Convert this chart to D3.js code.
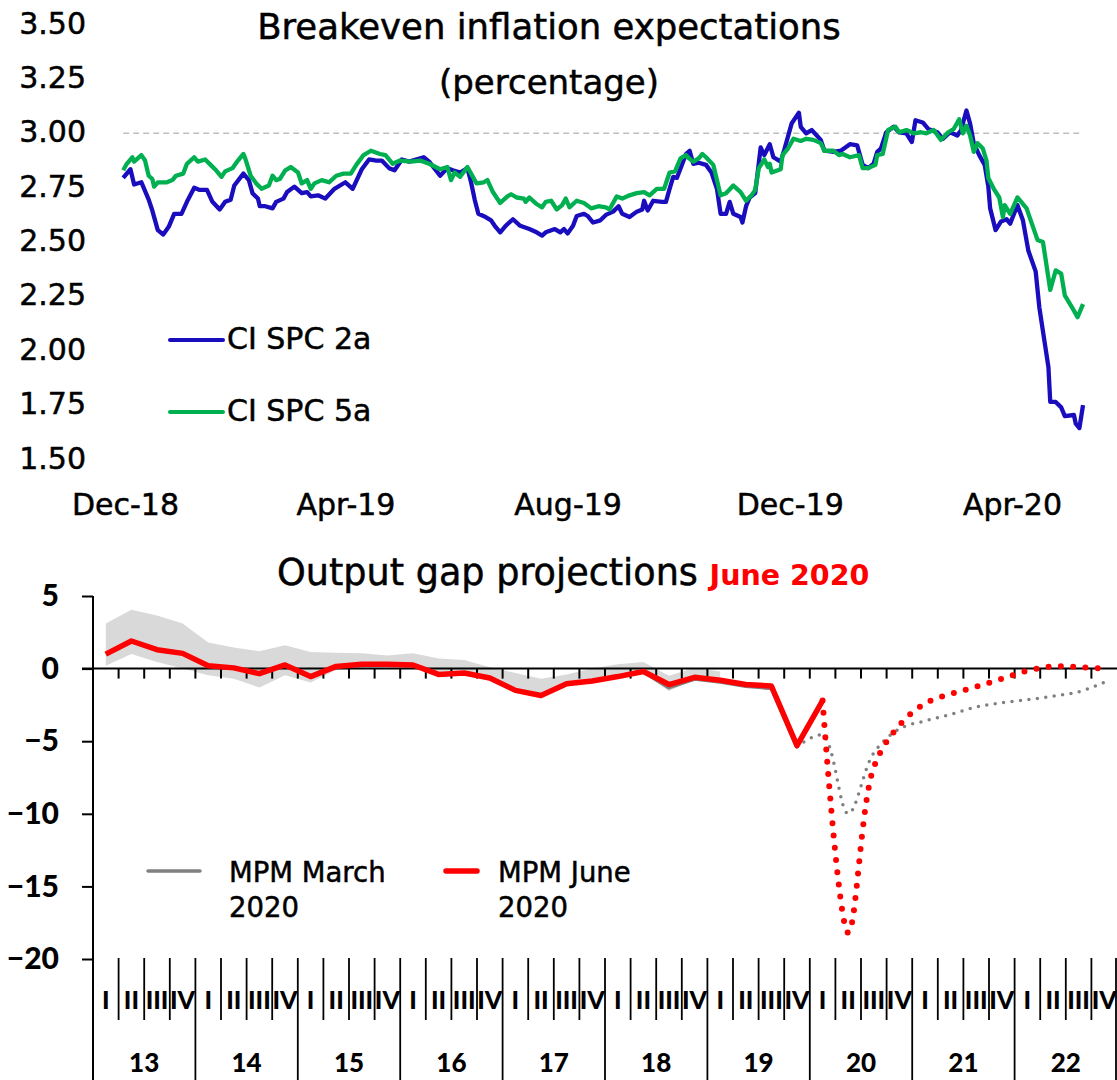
<!DOCTYPE html>
<html><head><meta charset="utf-8">
<script src="https://cdn.jsdelivr.net/npm/d3@7"></script>
<style>body{margin:0;background:#fff} svg{display:block} .hv{stroke:#000;stroke-width:0.5px;paint-order:stroke}</style>
</head><body>
<svg id="c" width="1117" height="1080"></svg>
<script>
// ---------- Top chart data: breakeven inflation (percent) ----------
const dates2a = ["2018-11-30","2018-12-04","2018-12-06","2018-12-10","2018-12-14","2018-12-16","2018-12-19","2018-12-22","2018-12-25","2018-12-28",
"2019-01-01","2019-01-04","2019-01-08","2019-01-11","2019-01-15","2019-01-18","2019-01-22","2019-01-25","2019-01-28","2019-01-30",
"2019-02-04","2019-02-07","2019-02-09","2019-02-12","2019-02-13","2019-02-16","2019-02-20","2019-02-22","2019-02-26","2019-02-28",
"2019-03-04","2019-03-08","2019-03-11","2019-03-13","2019-03-17","2019-03-21","2019-03-26","2019-04-01","2019-04-05","2019-04-10",
"2019-04-14","2019-04-18","2019-04-21","2019-04-25","2019-04-28","2019-05-02","2019-05-06","2019-05-14","2019-05-17","2019-05-23",
"2019-05-27","2019-05-30","2019-06-03","2019-06-07","2019-06-09","2019-06-11","2019-06-13","2019-06-17","2019-06-20","2019-06-22",
"2019-06-25","2019-06-28","2019-07-02","2019-07-06","2019-07-11","2019-07-15","2019-07-18","2019-07-20","2019-07-25","2019-07-28",
"2019-07-30","2019-08-01","2019-08-04","2019-08-06","2019-08-10","2019-08-12","2019-08-15","2019-08-19","2019-08-22","2019-08-26",
"2019-08-29","2019-08-31","2019-09-04","2019-09-08","2019-09-11","2019-09-12","2019-09-14","2019-09-17","2019-09-22","2019-09-24",
"2019-09-26","2019-09-28","2019-09-30","2019-10-03","2019-10-05","2019-10-07","2019-10-09","2019-10-12","2019-10-16","2019-10-19",
"2019-10-22","2019-10-24","2019-10-27","2019-10-29","2019-10-31","2019-11-04","2019-11-05","2019-11-07","2019-11-09","2019-11-12",
"2019-11-15","2019-11-17","2019-11-20","2019-11-22","2019-11-26","2019-11-28","2019-12-02","2019-12-06","2019-12-07","2019-12-10",
"2019-12-13","2019-12-18","2019-12-20","2019-12-25","2019-12-29","2020-01-03","2020-01-07","2020-01-10","2020-01-13","2020-01-16",
"2020-01-18","2020-01-20","2020-01-23","2020-01-27","2020-01-30","2020-02-03","2020-02-06","2020-02-08","2020-02-12","2020-02-15",
"2020-02-20","2020-02-23","2020-02-27","2020-03-02","2020-03-04","2020-03-07","2020-03-09","2020-03-11","2020-03-14","2020-03-17",
"2020-03-19","2020-03-20","2020-03-23","2020-03-26","2020-03-29","2020-03-31","2020-04-04","2020-04-07","2020-04-10","2020-04-14",
"2020-04-16","2020-04-19","2020-04-21","2020-04-22","2020-04-25","2020-04-28","2020-04-30","2020-05-05","2020-05-06","2020-05-08",
"2020-05-10"];
const values2a = [2.79,2.83,2.76,2.77,2.69,2.64,2.55,2.53,2.565,2.625,
2.625,2.68,2.745,2.735,2.735,2.68,2.645,2.68,2.69,2.755,
2.81,2.78,2.72,2.695,2.66,2.66,2.65,2.68,2.695,2.725,
2.75,2.72,2.725,2.705,2.71,2.695,2.74,2.77,2.74,2.83,
2.875,2.87,2.87,2.835,2.825,2.875,2.865,2.885,2.865,2.80,
2.835,2.825,2.815,2.835,2.77,2.69,2.625,2.61,2.595,2.57,
2.54,2.57,2.60,2.57,2.555,2.54,2.525,2.54,2.555,2.54,
2.555,2.535,2.57,2.615,2.625,2.615,2.585,2.595,2.62,2.635,
2.66,2.625,2.61,2.635,2.645,2.685,2.64,2.685,2.68,2.68,
2.74,2.795,2.79,2.855,2.90,2.915,2.855,2.86,2.85,2.815,
2.74,2.625,2.625,2.68,2.625,2.61,2.585,2.66,2.70,2.72,
2.93,2.895,2.945,2.885,2.865,2.92,3.04,3.09,3.025,2.995,
3.01,2.965,2.915,2.91,2.915,2.945,2.94,2.85,2.835,2.855,
2.91,2.925,3.00,3.025,3.00,2.995,2.955,3.055,3.045,3.015,
3.00,2.97,3.00,2.985,3.01,3.10,3.04,2.95,2.895,2.85,
2.75,2.65,2.55,2.59,2.60,2.58,2.665,2.595,2.455,2.36,
2.195,2.03,1.92,1.76,1.76,1.735,1.695,1.70,1.66,1.64,
1.745];
const dates5a = ["2018-11-30","2018-12-02","2018-12-05","2018-12-06","2018-12-10","2018-12-12","2018-12-14","2018-12-16","2018-12-17","2018-12-19",
"2018-12-24","2018-12-27","2018-12-29","2019-01-02","2019-01-04","2019-01-08","2019-01-10","2019-01-14","2019-01-17","2019-01-20",
"2019-01-23","2019-01-25","2019-01-29","2019-02-01","2019-02-04","2019-02-05","2019-02-08","2019-02-11","2019-02-14","2019-02-18",
"2019-02-20","2019-02-22","2019-02-24","2019-02-27","2019-03-02","2019-03-06","2019-03-08","2019-03-11","2019-03-13","2019-03-15",
"2019-03-19","2019-03-23","2019-03-27","2019-03-31","2019-04-04","2019-04-07","2019-04-11","2019-04-15","2019-04-20","2019-04-23",
"2019-04-27","2019-05-01","2019-05-07","2019-05-12","2019-05-17","2019-05-23","2019-05-27","2019-05-29","2019-05-31","2019-06-03",
"2019-06-07","2019-06-09","2019-06-12","2019-06-16","2019-06-18","2019-06-21","2019-06-25","2019-06-29","2019-07-01","2019-07-04",
"2019-07-08","2019-07-09","2019-07-11","2019-07-15","2019-07-18","2019-07-20","2019-07-23","2019-07-26","2019-07-29","2019-07-31",
"2019-08-02","2019-08-06","2019-08-10","2019-08-14","2019-08-18","2019-08-22","2019-08-24","2019-08-28","2019-08-31","2019-09-04",
"2019-09-08","2019-09-12","2019-09-15","2019-09-19","2019-09-23","2019-09-26","2019-09-29","2019-10-02","2019-10-05","2019-10-06",
"2019-10-09","2019-10-12","2019-10-14","2019-10-16","2019-10-20","2019-10-22","2019-10-24","2019-10-27","2019-10-31","2019-11-04",
"2019-11-07","2019-11-10","2019-11-12","2019-11-14","2019-11-17","2019-11-19","2019-11-20","2019-11-21","2019-11-26","2019-11-27",
"2019-11-30","2019-12-03","2019-12-07","2019-12-10","2019-12-14","2019-12-18","2019-12-20","2019-12-25","2019-12-28","2019-12-30",
"2020-01-03","2020-01-08","2020-01-10","2020-01-13","2020-01-17","2020-01-18","2020-01-21","2020-01-24","2020-01-28","2020-01-30",
"2020-02-03","2020-02-07","2020-02-11","2020-02-14","2020-02-18","2020-02-22","2020-02-26","2020-02-29","2020-03-03","2020-03-05",
"2020-03-07","2020-03-09","2020-03-11","2020-03-13","2020-03-16","2020-03-18","2020-03-19","2020-03-22","2020-03-25","2020-03-27",
"2020-03-28","2020-03-31","2020-04-04","2020-04-09","2020-04-15","2020-04-18","2020-04-22","2020-04-25","2020-04-28","2020-04-30",
"2020-05-05","2020-05-07","2020-05-10"];
const values5a = [2.825,2.855,2.885,2.865,2.895,2.87,2.80,2.785,2.75,2.77,
2.77,2.78,2.80,2.81,2.855,2.885,2.865,2.875,2.85,2.825,
2.795,2.82,2.835,2.87,2.90,2.88,2.80,2.765,2.74,2.755,
2.80,2.78,2.785,2.825,2.84,2.815,2.765,2.78,2.74,2.765,
2.78,2.77,2.80,2.81,2.81,2.85,2.895,2.915,2.90,2.895,
2.855,2.87,2.865,2.87,2.855,2.83,2.84,2.78,2.815,2.795,
2.84,2.81,2.765,2.77,2.78,2.725,2.675,2.705,2.715,2.70,
2.695,2.68,2.70,2.67,2.655,2.68,2.685,2.645,2.665,2.695,
2.655,2.685,2.675,2.65,2.66,2.655,2.645,2.705,2.695,2.71,
2.72,2.725,2.71,2.74,2.74,2.815,2.82,2.88,2.895,2.885,
2.865,2.88,2.90,2.885,2.85,2.78,2.71,2.72,2.755,2.725,
2.685,2.71,2.735,2.835,2.875,2.84,2.855,2.815,2.83,2.895,
2.925,2.97,2.96,2.97,2.965,2.95,2.915,2.915,2.895,2.90,
2.885,2.895,2.835,2.835,2.85,2.895,2.90,3.01,3.025,3.00,
3.01,2.995,3.00,2.995,3.01,2.965,3.00,3.015,3.06,2.995,
3.03,2.985,2.91,2.95,2.925,2.87,2.79,2.74,2.70,2.61,
2.665,2.625,2.70,2.65,2.505,2.495,2.275,2.365,2.35,2.25,
2.18,2.15,2.21];
const topYTicks = [1.50,1.75,2.00,2.25,2.50,2.75,3.00,3.25,3.50];
const topXTickDates = ["2018-12-01","2019-04-01","2019-08-01","2019-12-01","2020-04-01"];
const topXTickLabels = ["Dec-18","Apr-19","Aug-19","Dec-19","Apr-20"];
const targetLevel = 3.0;
const seriesNames = ["CI SPC 2a","CI SPC 5a"];

// ---------- Bottom chart data: output gap (percent) ----------
const yearLabels = ["13","14","15","16","17","18","19","20","21","22"];
const quarterNames = ["I","II","III","IV"];
const gapJuneHist = [1.0,1.9,1.3,1.05,0.2,0.05,-0.35,0.25,-0.55,0.15,0.3,0.3,0.25,-0.4,-0.3,-0.65,-1.5,-1.85,-1.05,-0.85,-0.55,-0.2,-1.1,-0.6,-0.8,-1.1,-1.2,-5.3,-2.2]; // 13-I .. 20-I
const gapJuneProj = [-2.2,-18.2,-6.8,-3.9,-2.4,-1.75,-1.25,-0.7,-0.15,0.15,0.1,0.0]; // 20-I .. 22-IV
const gapMarchHist = [1.0,1.9,1.3,1.05,0.2,0.05,-0.35,0.25,-0.55,0.15,0.3,0.3,0.25,-0.4,-0.3,-0.65,-1.5,-1.85,-1.05,-0.85,-0.55,-0.2,-1.3,-0.7,-0.9,-1.2,-1.35,-5.4]; // 13-I .. 19-IV
const gapMarchProj = [-5.4,-4.6,-10.0,-5.8,-4.15,-3.6,-3.15,-2.65,-2.35,-2.15,-1.9,-1.6,-0.95]; // 19-IV .. 22-IV
const rangeUpper = [3.1,4.05,3.65,3.1,1.8,1.45,1.2,1.6,1.15,1.1,1.05,0.9,1.05,0.7,0.6,0.1,-0.3,-0.7,-0.4,0.0,0.3,0.45,-0.5,0.05,-0.2]; // 13-I .. 19-I
const rangeLower = [0.2,1.0,0.45,0.0,-0.45,-0.7,-1.3,-0.45,-0.95,-0.1,0.05,0.1,0.0,-0.5,-0.45,-0.8,-1.6,-1.95,-1.15,-1.0,-0.65,-0.35,-1.55,-0.75,-0.9];
const gapYTicks = [5,0,-5,-10,-15,-20];
const gapLegend = [["MPM March","2020"],["MPM June","2020"]];

// ---------- drawing ----------
const svg = d3.select("#c");
const parse = d3.timeParse("%Y-%m-%d");
const BLUE = "#1A0DBE", GREEN = "#00B050", RED = "#FF0000", GREY = "#808080";
const SANS = "DejaVu Sans, Verdana, sans-serif";
const BOLD = "Lato, 'Open Sans', sans-serif";

// Top chart
const xTop = d3.scaleTime().domain([parse("2018-12-01"), parse("2020-04-01")]).range([125, 1012]);
const yTop = d3.scaleLinear().domain([1.5, 3.5]).range([458.5, 23.5]);

svg.append("text").attr("class","hv").attr("x", 549).attr("y", 39).attr("text-anchor","middle")
  .style("font-family", SANS).style("font-size","35.5px").text("Breakeven inflation expectations");
svg.append("text").attr("class","hv").attr("x", 549).attr("y", 94).attr("text-anchor","middle")
  .style("font-family", SANS).style("font-size","34px").text("(percentage)");

const gyTop = svg.append("g").attr("transform","translate(86,0)")
  .call(d3.axisLeft(yTop).tickValues(topYTicks).tickFormat(d3.format(".2f")).tickSize(0).tickPadding(0));
gyTop.select(".domain").remove();
gyTop.selectAll("text").attr("class","hv").style("font-family", SANS).style("font-size","30px").attr("fill","#000");

const gxTop = svg.append("g").attr("transform","translate(0,491)")
  .call(d3.axisBottom(xTop).tickValues(topXTickDates.map(parse)).tickFormat((d,i)=>topXTickLabels[i]).tickSize(0).tickPadding(3));
gxTop.select(".domain").remove();
gxTop.selectAll("text").attr("class","hv").style("font-family", SANS).style("font-size","30px").attr("fill","#000");

const d0 = parse(dates2a[0]), d1 = parse(dates2a[dates2a.length-1]);
svg.append("line").attr("x1", xTop(d0)).attr("x2", xTop(d1)).attr("y1", yTop(targetLevel)+1).attr("y2", yTop(targetLevel)+1)
  .attr("stroke","#BFBFBF").attr("stroke-width",1.6).attr("stroke-dasharray","6,4");

const lineTop = d3.line().x(d=>xTop(d[0])).y(d=>yTop(d[1]));
svg.append("path").datum(dates2a.map((d,i)=>[parse(d), values2a[i]]))
  .attr("d", lineTop).attr("fill","none").attr("stroke",BLUE).attr("stroke-width",4.3).attr("stroke-linejoin","round");
svg.append("path").datum(dates5a.map((d,i)=>[parse(d), values5a[i]]))
  .attr("d", lineTop).attr("fill","none").attr("stroke",GREEN).attr("stroke-width",4.3).attr("stroke-linejoin","round");

[[BLUE, 340, 349], [GREEN, 412, 421]].forEach(([c, ly, ty], i) => {
  svg.append("line").attr("x1",170).attr("x2",223).attr("y1",ly).attr("y2",ly)
    .attr("stroke",c).attr("stroke-width",4).attr("stroke-linecap","round");
  svg.append("text").attr("class","hv").attr("x",227).attr("y",ty).style("font-family",SANS).style("font-size","30px").text(seriesNames[i]);
});

// Bottom chart
const quarters = [];
yearLabels.forEach(y => quarterNames.forEach(q => quarters.push(y + "-" + q)));
const xBot = d3.scaleBand().domain(quarters).range([93, 1117]);
const xc = q => xBot(q) + xBot.bandwidth()/2;
const yBot = d3.scaleLinear().domain([-20, 5]).range([959, 596]);

const tb = svg.append("text").attr("x", 277).attr("y", 585).style("font-family",SANS);
tb.append("tspan").attr("class","hv").style("font-size","36.6px").text("Output gap projections ");
tb.append("tspan").style("font-size","28.5px").style("font-weight","bold").attr("fill",RED).text("June 2020");

// range band
const area = d3.area().x((d,i)=>xc(quarters[i])).y0(d=>yBot(d[0])).y1(d=>yBot(d[1]));
svg.append("path").datum(rangeLower.map((v,i)=>[v, rangeUpper[i]])).attr("d", area).attr("fill","#D9D9D9");

// zero axis with quarter ticks
svg.append("line").attr("x1",82).attr("x2",1117).attr("y1",yBot(0)).attr("y2",yBot(0)).attr("stroke","#000").attr("stroke-width",2);
quarters.forEach((q,i) => { if (i>0) svg.append("line").attr("x1",xBot(q)).attr("x2",xBot(q)).attr("y1",yBot(0)).attr("y2",yBot(0)+10).attr("stroke","#000").attr("stroke-width",2); });

// y axis
const gyBot = svg.append("g").attr("transform","translate(93,0)")
  .call(d3.axisLeft(yBot).tickValues(gapYTicks).tickSize(11).tickPadding(23));
gyBot.select(".domain").remove();
gyBot.selectAll("line").attr("stroke","#000").attr("stroke-width",2);
gyBot.selectAll("text").style("font-family",BOLD).style("font-weight","900").style("font-size","30px").attr("fill","#000");
svg.append("line").attr("x1",93).attr("x2",93).attr("y1",yBot(5)).attr("y2",1080).attr("stroke","#000").attr("stroke-width",2);

// category axis
const catTop = 958;
quarters.concat(["end"]).forEach((q,i) => {
  const x = q === "end" ? xBot.range()[1] - 1 : xBot(q);
  if (i === 0) return;
  const isYear = i % 4 === 0;
  svg.append("line").attr("x1",x).attr("x2",x).attr("y1",catTop).attr("y2", isYear ? 1080 : 1020)
    .attr("stroke","#000").attr("stroke-width",1.8);
});
quarters.forEach((q,i) => {
  svg.append("text").attr("x", xc(q)).attr("y", 1009).attr("text-anchor","middle")
    .style("font-family",BOLD).style("font-weight","900").style("font-size","25px").text(quarterNames[i%4]);
});
yearLabels.forEach((y,i) => {
  const x0 = xBot(y + "-I"), x1 = xBot(y + "-IV") + xBot.bandwidth();
  svg.append("text").attr("x",(x0+x1)/2).attr("y",1072).attr("text-anchor","middle")
    .style("font-family",BOLD).style("font-weight","900").style("font-size","26px").text(y);
});

// lines
const lineB = d3.line().x(d=>xc(d[0])).y(d=>yBot(d[1]));
const smoothB = d3.line().x(d=>xc(d[0])).y(d=>yBot(d[1])).curve(d3.curveCatmullRom.alpha(0.5));
const seq = (arr, start) => arr.map((v,i)=>[quarters[start+i], v]);
const iMarchProj = quarters.indexOf("19-IV"), iJuneProj = quarters.indexOf("20-I");

svg.append("path").datum(seq(gapMarchHist,0)).attr("d",lineB).attr("fill","none").attr("stroke",GREY).attr("stroke-width",4).attr("stroke-linejoin","round");
svg.append("path").datum(seq(gapMarchProj,iMarchProj)).attr("d",smoothB).attr("fill","none").attr("stroke",GREY).attr("stroke-width",3.5).attr("stroke-linecap","round").attr("stroke-dasharray","0 8.5");
svg.append("path").datum(seq(gapJuneHist,0)).attr("d",lineB).attr("fill","none").attr("stroke",RED).attr("stroke-width",5.5).attr("stroke-linejoin","round");
svg.append("path").datum(seq(gapJuneProj,iJuneProj)).attr("d",smoothB).attr("fill","none").attr("stroke",RED).attr("stroke-width",6).attr("stroke-linecap","round").attr("stroke-dasharray","0 12.3");

// legend
[[GREY, 148, 200, 3.5, 229], [RED, 446, 477, 5.5, 498]].forEach(([c,x1,x2,w,tx], i) => {
  svg.append("line").attr("x1",x1).attr("x2",x2).attr("y1",871).attr("y2",871).attr("stroke",c).attr("stroke-width",w).attr("stroke-linecap","round");
  const t = svg.append("text").attr("class","hv").style("font-family",SANS).style("font-size","27.5px");
  t.append("tspan").attr("x",tx).attr("y",882).text(gapLegend[i][0]);
  t.append("tspan").attr("x",tx).attr("y",917).text(gapLegend[i][1]);
});
</script>
</body></html>
